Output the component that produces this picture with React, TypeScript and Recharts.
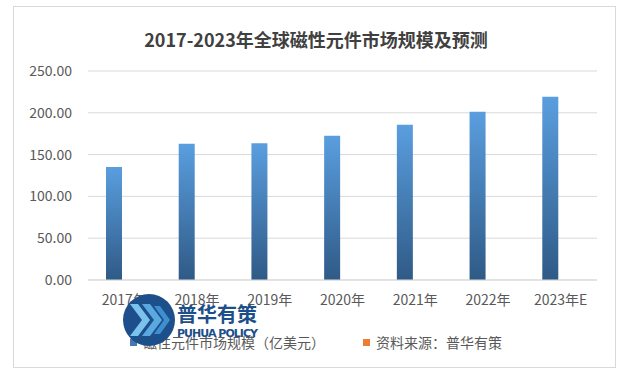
import React from "react"
import { Bar, BarChart, CartesianGrid, XAxis, YAxis } from "recharts"

const years = ["2017年", "2018年", "2019年", "2020年", "2021年", "2022年", "2023年E"]
const marketSize = [135.3, 162.9, 163.7, 172.5, 185.6, 201.2, 219.2]
const yTicks = [0, 50, 100, 150, 200, 250]
const legendNames = ["磁性元件市场规模（亿美元）", "资料来源：普华有策"]
const legendColors = ["#4577b0", "#ed7d31"]

const data = years.map((year, i) => ({ year, value: marketSize[i] }))

const font = "'Noto Sans CJK SC', 'Noto Sans', sans-serif"

function LegendBox() {
  return (
    <div
      style={{
        position: "absolute",
        top: 332,
        left: 0,
        width: 632,
        display: "flex",
        justifyContent: "center",
        fontFamily: font,
        fontSize: 14,
        color: "#595959",
      }}
    >
      {legendNames.map((name, i) => (
        <div key={name} style={{ display: "flex", alignItems: "center", marginLeft: i ? 38 : 0 }}>
          <span style={{ width: 7, height: 7, background: legendColors[i], display: "inline-block", marginRight: 6 }} />
          <span>{name}</span>
        </div>
      ))}
    </div>
  )
}

function Watermark() {
  return (
    <svg width={160} height={70} style={{ position: "absolute", left: 120, top: 290, pointerEvents: "none" }}>
      <circle cx={29} cy={30} r={26} fill="#1d4f8a" />
      <polygon points="10,14 18,14 30,30 18,46 10,46 22,30" fill="#7cc3ec" />
      <polygon points="22,14 30,14 42,30 30,46 22,46 34,30" fill="#5aa8e0" />
      <polygon points="34,16 40,16 50,30 40,44 34,44 44,30" fill="#3f8fd0" />
      <text x={57} y={32} fontFamily={font} fontWeight={700} fontSize={20} fill="#1d4f8a">普华有策</text>
      <text x={57} y={47} fontFamily="'DejaVu Sans', sans-serif" fontWeight={700} fontSize={11} fill="#1d4f8a" textLength={81}>PUHUA POLICY</text>
    </svg>
  )
}

export default function App() {
  return (
    <div style={{ position: "absolute", left: 0, top: 0, width: 632, height: 388, background: "#fff" }}>
      <div style={{ position: "absolute", left: 13, top: 6, width: 601, height: 360, border: "1px solid #d9d9d9" }} />
      <div
        style={{
          position: "absolute",
          top: 26,
          left: 0,
          width: 632,
          textAlign: "center",
          fontFamily: font,
          fontWeight: 700,
          fontSize: 18,
          color: "#404040",
        }}
      >
        2017-2023年全球磁性元件市场规模及预测
      </div>
      <BarChart
        width={632}
        height={388}
        data={data}
        margin={{ top: 71, right: 35, bottom: 78, left: 0 }}
        style={{ position: "absolute", left: 0, top: 0 }}
      >
        <CartesianGrid vertical={false} stroke="#d9d9d9" xAxisId="label" />
        <defs>
          <linearGradient id="barFill" x1="0" y1="0" x2="0" y2="1">
            <stop offset="0%" stopColor="#5a9edf" />
            <stop offset="100%" stopColor="#2f5a86" />
          </linearGradient>
        </defs>
        <XAxis
          xAxisId="label"
          dataKey="year"
          height={30}
          axisLine={{ stroke: "#d9d9d9" }}
          tickLine={false}
          tickMargin={9}
          tick={{ fill: "#595959", fontSize: 14, fontFamily: font }}
          interval={0}
        />
        <XAxis xAxisId="bar" dataKey="year" hide height={0} padding={{ left: -10, right: 10 }} />
        <YAxis
          width={88}
          domain={[0, 250]}
          ticks={yTicks}
          axisLine={false}
          tickLine={false}
          tickMargin={10}
          tickFormatter={(v: number) => v.toFixed(2)}
          tick={{ fill: "#595959", fontSize: 14, fontFamily: font }}
        />
        <Bar dataKey="value" xAxisId="bar" barSize={16} fill="url(#barFill)" isAnimationActive={false} />
      </BarChart>
      <LegendBox />
      <Watermark />
    </div>
  )
}
